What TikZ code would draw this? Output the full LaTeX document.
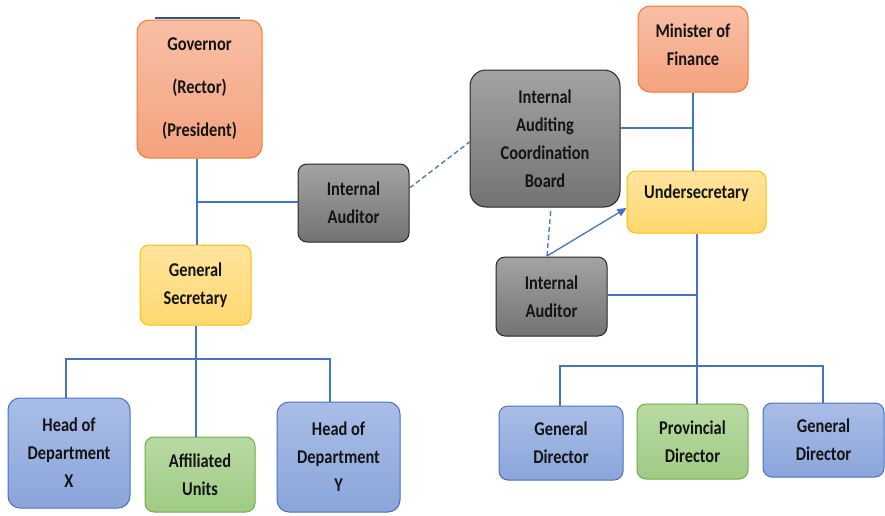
\documentclass[tikz,border=0pt]{standalone}
\usepackage{fontspec}
\setmainfont{Carlito}[FakeStretch=0.84]
\usetikzlibrary{arrows.meta}
\definecolor{lineblue}{HTML}{4472C4}
\definecolor{darkblue}{HTML}{2F5597}
\definecolor{txt}{HTML}{141414}
\definecolor{orB}{HTML}{ED7D31}\definecolor{orT}{HTML}{F8BFA6}\definecolor{orD}{HTML}{F4A27E}
\definecolor{ylB}{HTML}{FFC000}\definecolor{ylT}{HTML}{FFE49E}\definecolor{ylD}{HTML}{FFD86F}
\definecolor{gyB}{HTML}{262626}\definecolor{gyT}{HTML}{A3A3A3}\definecolor{gyD}{HTML}{737373}
\definecolor{blB}{HTML}{4472C4}\definecolor{blT}{HTML}{A9BDE6}\definecolor{blD}{HTML}{8BA5DA}
\definecolor{grB}{HTML}{70AD47}\definecolor{grT}{HTML}{B8DAA3}\definecolor{grD}{HTML}{9FCB84}
\tikzset{
  lbl/.style={text=txt, font=\bfseries\fontsize{19.5}{28}\selectfont},
  box/.style={lbl, rounded corners=12pt, line width=1pt, align=center, inner sep=0pt},
  orangebox/.style={box, draw=orB, top color=orT, bottom color=orD},
  yellowbox/.style={box, draw=ylB, top color=ylT, bottom color=ylD},
  graybox/.style={box, draw=gyB, top color=gyT, bottom color=gyD},
  bluebox/.style={box, draw=blB, top color=blT, bottom color=blD},
  greenbox/.style={box, draw=grB, top color=grT, bottom color=grD},
  conn/.style={draw=lineblue, line width=1.3pt},
  dconn/.style={conn, dash pattern=on 5pt off 3pt},
}
\begin{document}
\begin{tikzpicture}[x=1pt,y=-1pt]
\fill[white] (0,0) rectangle (885,515);
\useasboundingbox (0,0) rectangle (885,515);
\coordinate (topa) at (155,18);
\coordinate (topb) at (240,18);
\draw[darkblue, line width=1.5pt] (topa) -- (topb);
% left side
\node[orangebox, minimum width=125pt, minimum height=138pt] (gov) at (199.5,89) {Governor\\[15pt](Rector)\\[15pt](President)};
\node[graybox, minimum width=111pt, minimum height=78pt, rounded corners=9pt] (ia1) at (353.5,203) {Internal\\Auditor};
\node[yellowbox, minimum width=111pt, minimum height=80pt, rounded corners=9pt] (gs) at (195.5,285) {General\\Secretary};
\node[bluebox, minimum width=122pt, minimum height=110pt] (hx) at (69,453) {Head of\\Department\\X};
\node[greenbox, minimum width=110pt, minimum height=75pt, rounded corners=9pt] (au) at (200,474.5) {Affiliated\\Units};
\node[bluebox, minimum width=123pt, minimum height=110pt] (hy) at (338.5,457) {Head of\\Department\\Y};
% right side
\node[graybox, minimum width=150pt, minimum height=137pt, rounded corners=16pt] (iacb) at (545,138.5) {Internal\\Auditing\\Coordination\\Board};
\node[orangebox, minimum width=110pt, minimum height=86pt] (mf) at (693,49) {};
\node[lbl, align=center] (mft) at (693,44.5) {Minister of\\Finance};
\node[yellowbox, minimum width=139pt, minimum height=62pt, rounded corners=9pt] (us) at (696.5,202) {};
\node[lbl] (ust) at (696.5,193) {Undersecretary};
\node[graybox, minimum width=111pt, minimum height=79pt, rounded corners=9pt] (ia2) at (551.5,296.5) {Internal\\Auditor};
\node[bluebox, minimum width=124pt, minimum height=74pt, rounded corners=9pt] (gd1) at (561,443) {General\\Director};
\node[greenbox, minimum width=111pt, minimum height=75pt, rounded corners=9pt] (pd) at (692.5,441.5) {Provincial\\Director};
\node[bluebox, minimum width=121pt, minimum height=74pt, rounded corners=9pt] (gd2) at (823.5,440) {General\\Director};
% left connectors
\coordinate (j1) at (197,202);
\draw[conn] (j1 |- gov.south) -- (j1 |- gs.north);
\draw[conn] (j1) -- (j1 -| ia1.west);
\coordinate (j2) at (196,359);
\coordinate (hxj) at (66,359);
\coordinate (hyj) at (330,359);
\draw[conn] (j2 |- gs.south) -- (j2 |- au.north);
\draw[conn] (hxj |- hx.north) -- (hxj) -- (hyj) -- (hyj |- hy.north);
\draw[dconn] ([yshift=15pt]ia1.east) -- ([yshift=-3.5pt]iacb.west);
% right connectors
\coordinate (j3) at (693,128);
\draw[conn] (mf.south) -- (mf.south |- us.north);
\draw[conn] (j3 -| iacb.east) -- (j3);
\coordinate (j4) at (697,366);
\coordinate (j5) at (697,295);
\draw[conn] (j4 |- us.south) -- (j4 |- pd.north);
\draw[conn] (j5 -| ia2.east) -- (j5);
\coordinate (g1j) at (560,366);
\coordinate (g2j) at (823,366);
\draw[conn] (g1j |- gd1.north) -- (g1j) -- (g2j) -- (g2j |- gd2.north);
\coordinate (ja) at (547,256);
\draw[conn, -{Triangle[length=9pt,width=8pt]}] (ja) -- ([yshift=-6pt]us.west);
\draw[dconn] (ja) -- ([xshift=6pt]iacb.south);
\end{tikzpicture}
\end{document}
